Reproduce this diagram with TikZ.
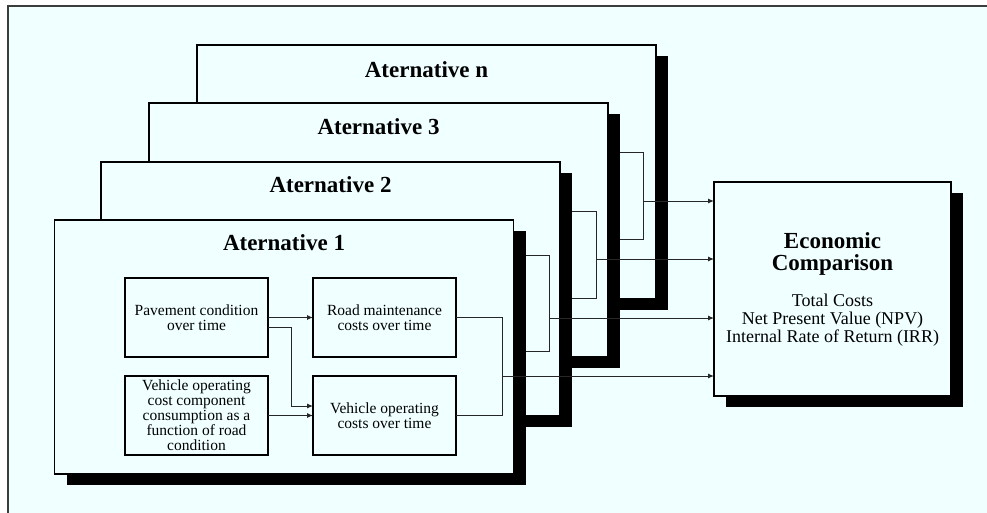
\documentclass[tikz,border=0pt]{standalone}
\usepackage{fontspec}
\setmainfont{Liberation Serif}[BoldFont={Liberation Serif Bold}]
\usetikzlibrary{arrows.meta,calc}
\definecolor{bgc}{RGB}{240,255,255}
\definecolor{framec}{RGB}{60,60,60}
\tikzset{
  altbox/.style={draw=black, line width=1.3pt, fill=bgc, minimum width=459pt, minimum height=254pt, inner sep=0pt, outer sep=0pt},
  shadowbox/.style={fill=black, draw=none, minimum width=459pt, minimum height=254pt, inner sep=0pt, outer sep=0pt},
  alttitle/.style={font=\fontsize{23}{23}\selectfont\bfseries, anchor=base, inner sep=0pt},
  econbox/.style={draw=black, line width=1.3pt, fill=bgc, minimum width=237pt, minimum height=214pt, inner sep=0pt, outer sep=0pt},
  econshadow/.style={fill=black, draw=none, minimum width=237pt, minimum height=214pt, inner sep=0pt, outer sep=0pt},
  econtitle/.style={font=\fontsize{23}{23}\selectfont\bfseries, anchor=base, inner sep=0pt},
  econtext/.style={font=\fontsize{18}{18}\selectfont, anchor=base, inner sep=0pt},
  innerbox/.style={draw=black, line width=1.3pt, fill=bgc, minimum width=143pt, minimum height=79pt, inner sep=1pt, outer sep=0pt, align=center, font=\fontsize{15.5}{15}\selectfont},
  conn/.style={line width=1pt, draw=black!85},
  arr/.style={conn, -{Latex[length=6pt,width=5pt]}},
}
\begin{document}
\begin{tikzpicture}[x=1pt,y=-1pt]
\useasboundingbox (0,0) rectangle (987,512);
\fill[white] (0,0) rectangle (987,512);
\fill[bgc] (8,6) rectangle (995,520);
\draw[line width=1.5pt, draw=framec] (8,520) -- (8,6) -- (995,6);

% Economic comparison box
\node[econshadow] (econsh) at (844.5,300) {};
\node[econbox] (econ) at (832.5,289) {};
\node[econtitle] (ect1) at (832.5,248) {Economic};
\node[econtitle] (ect2) at (832.5,270) {Comparison};
\node[econtext] (ecb1) at (832.5,306) {Total Costs};
\node[econtext] (ecb2) at (832.5,324) {Net Present Value (NPV)};
\node[econtext] (ecb3) at (832.5,342) {Internal Rate of Return (IRR)};

% Alternative n
\node[shadowbox] (altnsh) at (438.5,183) {};
\node[altbox] (altn) at (426.5,172) {};
\node[alttitle] (altnt) at ($(altn.north)+(0,32)$) {Aternative n};
\coordinate (ans1) at (612,152);
\coordinate (ant) at (643,152);
\coordinate (anb) at (643,239);
\coordinate (ans2) at (612,239);
\coordinate (ana) at (643,201);
\draw[conn] (ans1) -- (ant) -- (anb) -- (ans2);
\draw[arr] (ana) -- (ana -| econ.west);

% Alternative 3
\node[shadowbox] (alt3sh) at (390.5,241) {};
\node[altbox] (alt3) at (378.5,230) {};
\node[alttitle] (alt3t) at ($(alt3.north)+(0,31)$) {Aternative 3};
\coordinate (a3s1) at (565,211);
\coordinate (a3t) at (596,211);
\coordinate (a3b) at (596,298);
\coordinate (a3s2) at (565,298);
\coordinate (a3a) at (596,259);
\draw[conn] (a3s1) -- (a3t) -- (a3b) -- (a3s2);
\draw[arr] (a3a) -- (a3a -| econ.west);

% Alternative 2
\node[shadowbox] (alt2sh) at (342.5,300) {};
\node[altbox] (alt2) at (330.5,289) {};
\node[alttitle] (alt2t) at ($(alt2.north)+(0,30)$) {Aternative 2};
\coordinate (a2s1) at (517,255);
\coordinate (a2t) at (549,255);
\coordinate (a2b) at (549,351);
\coordinate (a2s2) at (517,351);
\coordinate (a2a) at (549,318);
\draw[conn] (a2s1) -- (a2t) -- (a2b) -- (a2s2);
\draw[arr] (a2a) -- (a2a -| econ.west);

% Alternative 1
\node[shadowbox] (alt1sh) at (296,358) {};
\node[altbox] (alt1) at (284,347) {};
\node[alttitle] (alt1t) at ($(alt1.north)+(0,30)$) {Aternative 1};

\node[innerbox] (pav) at (196.5,317.5) {Pavement condition\\over time};
\node[innerbox] (road) at (384.5,317.5) {Road maintenance\\costs over time};
\node[innerbox] (comp) at (196.5,415.5) {Vehicle operating\\cost component\\consumption as a\\function of road\\condition};
\node[innerbox] (voc) at (384.5,415.5) {Vehicle operating\\costs over time};

\draw[arr] (pav.east) -- (road.west);
\draw[arr] ($(pav.east)+(0,10)$) -- ($(pav.east)+(23,10)$) |- ($(voc.west)+(0,-9.5)$);
\draw[arr] (comp.east) -- (voc.west);

\coordinate (a1a) at (502,376);
\draw[conn] (road.east) -- (road.east -| a1a) -- (voc.east -| a1a) -- (voc.east);
\draw[arr] (a1a) -- (a1a -| econ.west);
\end{tikzpicture}
\end{document}
